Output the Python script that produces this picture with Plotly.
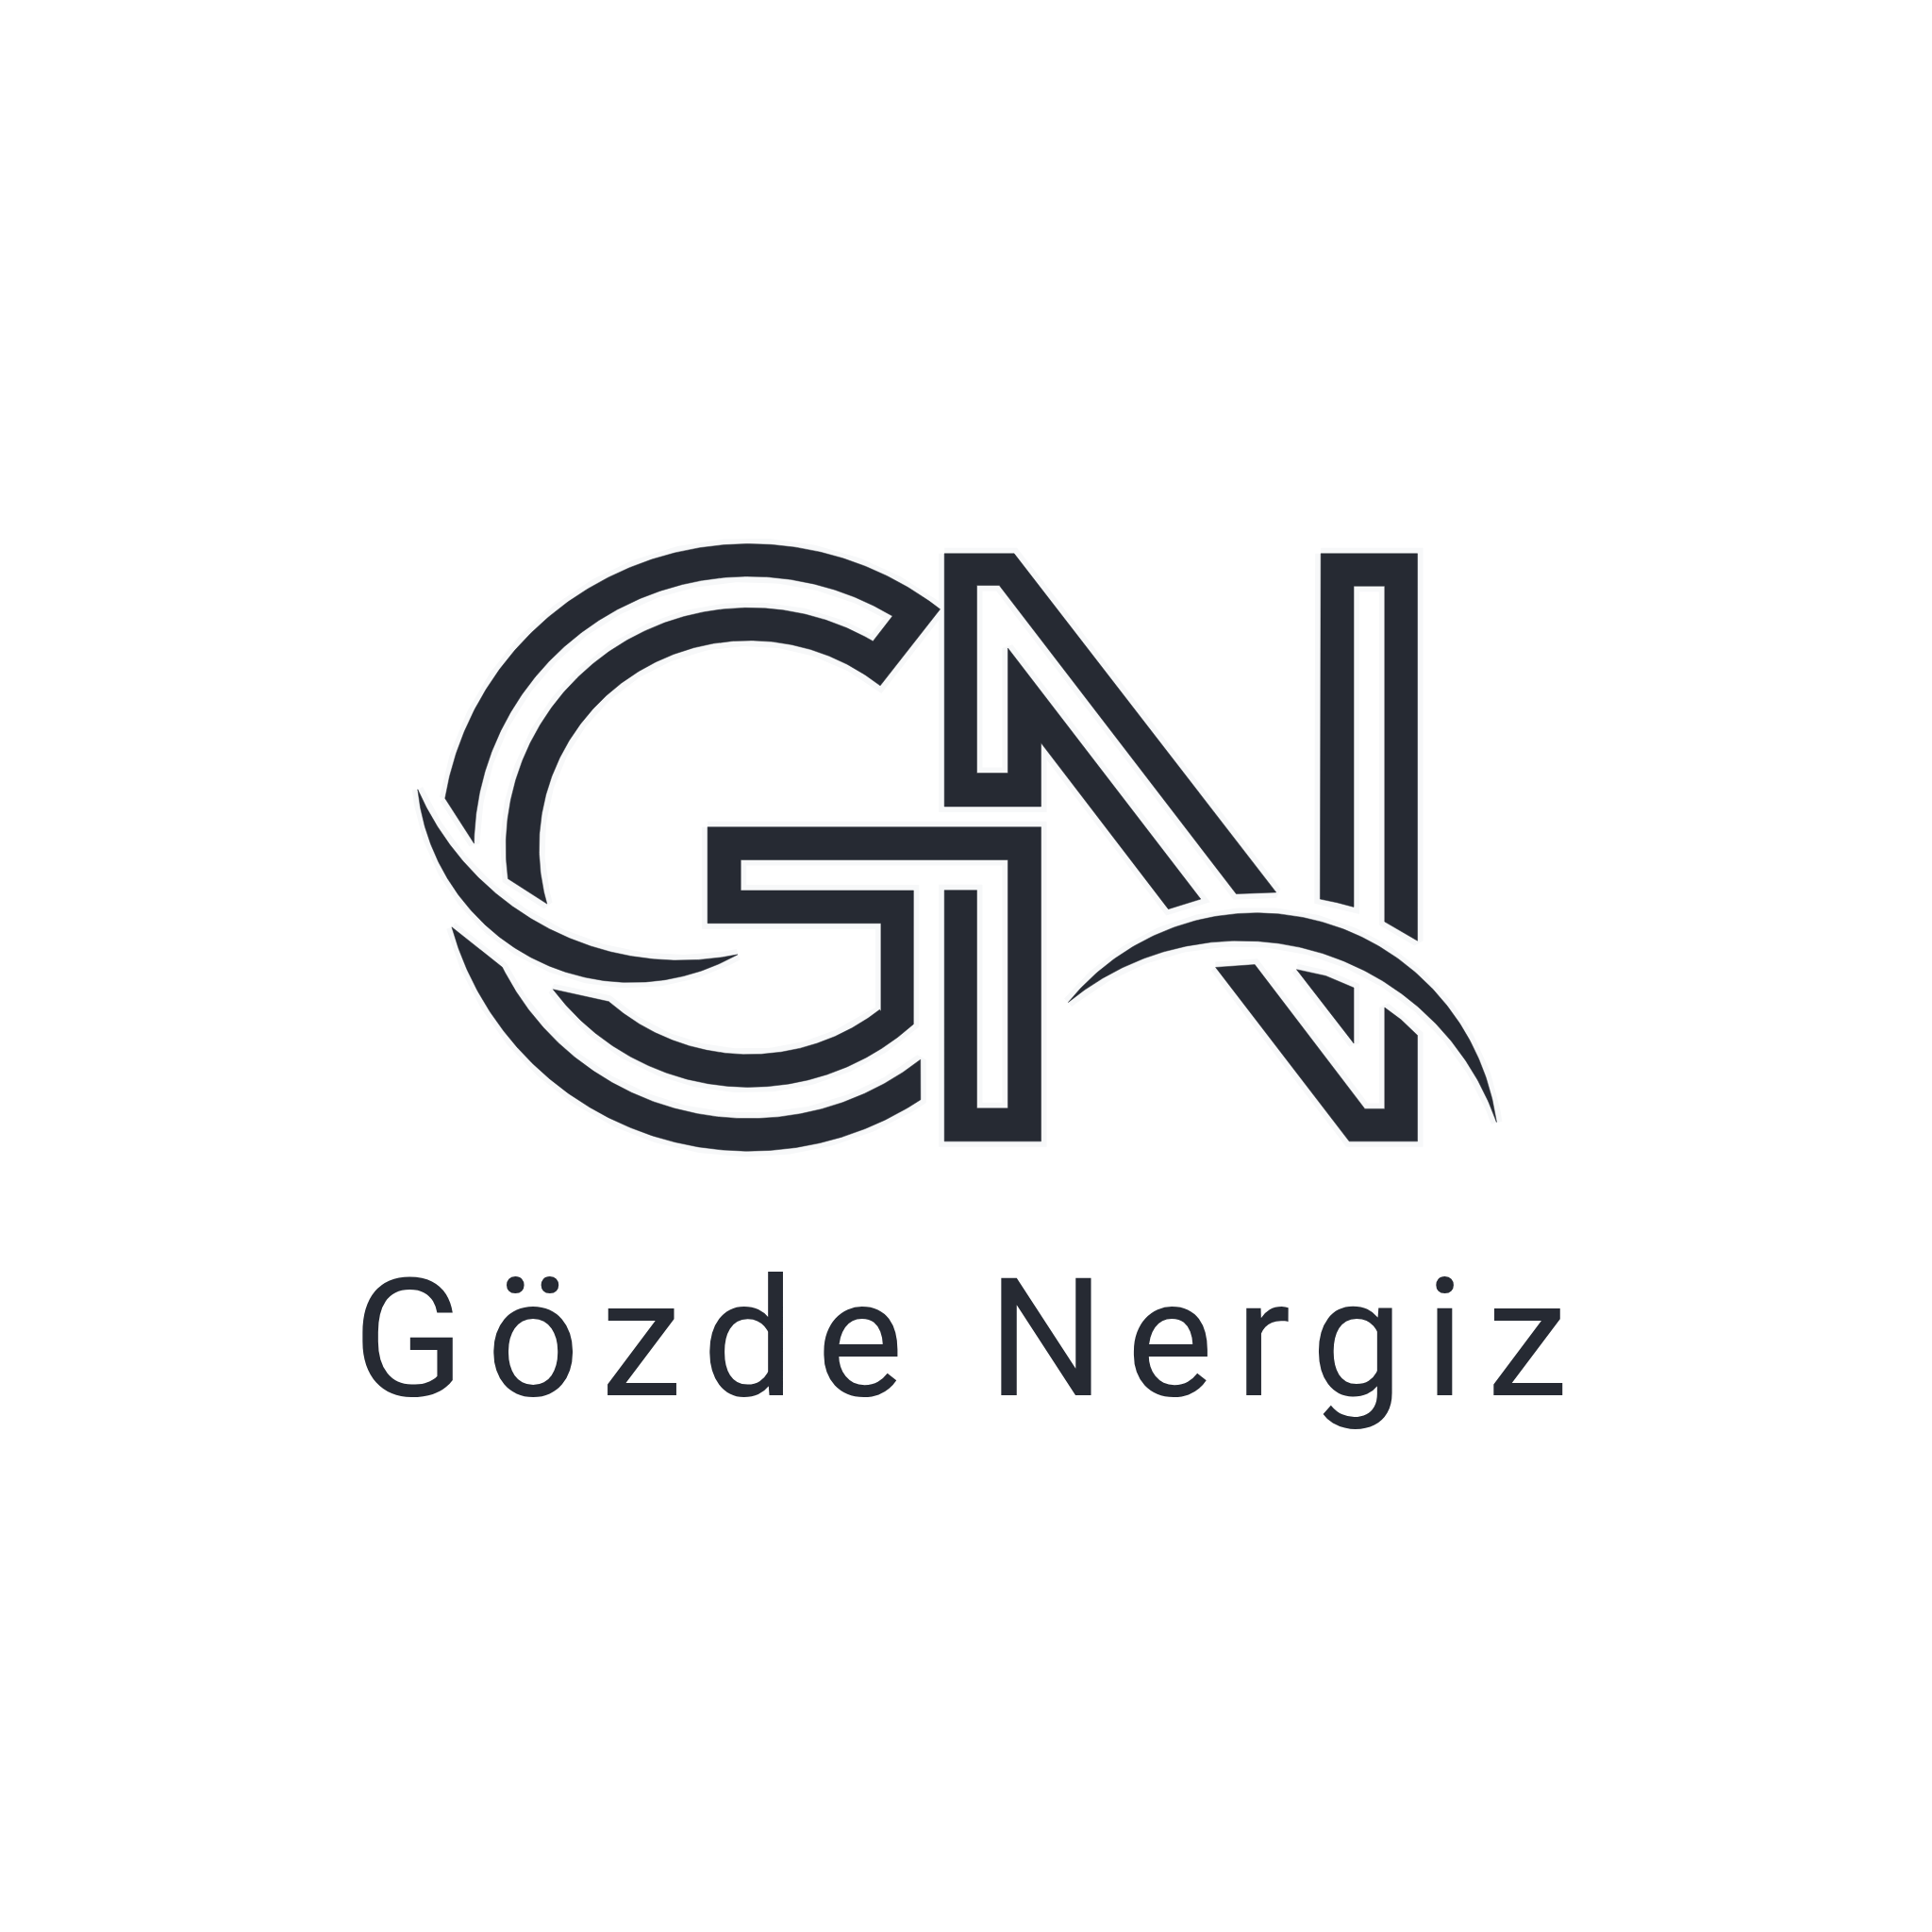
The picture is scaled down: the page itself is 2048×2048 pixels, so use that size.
import numpy as np
import plotly.graph_objects as go

# Logo geometry (coordinates on a 1568 x 1568 grid, y down)
INK = "#262a33"
HALO = "#f7f8f9"

# G rings: centre, horizontal stretch and the four ring radii (outer -> inner)
G_CX, G_CY = 608.0, 687.8
G_STRETCH = 1.015
RING_R = [246.4, 220.0, 194.5, 168.0]

# ring arcs per G piece: (ring index, start angle, end angle), screen degrees
G_TOP_ARCS = [(0, 189.3, 308.3), (3, 308.6, 164.2), (2, 172.5, 300.6), (1, 301.4, 180.85)]
G_LOW_ARCS = [(0, 164.8, 56.2), (1, 51.5, 153.8)]

# T bar joined to the inner lower ring of the G
BAR_X = [574.3, 844.9, 844.9, 766.5, 766.5, 792.8, 792.8, 818.0, 818.0, 601.2, 601.2, 741.4]
BAR_Y = [671.2, 671.2, 926.3, 926.3, 722.5, 722.5, 899.5, 899.5, 697.8, 697.8, 722.7, 722.7]
BAR_ARCS = [(2, 47.5, 143.7), (3, 132.2, 51.6)]
BAR_END_X = [715.0, 715.0, 574.3]
BAR_END_Y = [820.7, 749.3, 749.3]

# N pieces
N_LEFT_X = [766.5, 823.1, 1035.7, 1003.3, 811.0, 792.8, 792.8, 818.0, 818.0, 974.5, 948.2, 844.9, 844.9, 766.5]
N_LEFT_Y = [449.3, 449.3, 724.2, 725.5, 475.1, 475.1, 627.5, 627.5, 526.0, 729.7, 737.8, 603.0, 654.6, 654.6]
N_RIGHT_X = [1072.0, 1150.4, 1150.4, 1123.8, 1123.8, 1098.7, 1098.7, 1085.0, 1071.4]
N_RIGHT_Y = [449.3, 449.3, 763.5, 748.1, 475.7, 475.7, 736.1, 732.5, 729.7]
N_LOW_X = [986.6, 1018.4, 1107.7, 1123.8, 1123.8, 1137.0, 1150.4, 1150.4, 1095.0]
N_LOW_Y = [785.1, 782.9, 899.9, 899.9, 817.7, 827.5, 840.2, 926.3, 926.3]
N_TRI_X = [1052.3, 1076.0, 1098.7, 1098.7]
N_TRI_Y = [786.8, 792.0, 801.6, 846.7]

# crescent swooshes: tip A, point on upper edge, tip B, point on lower edge
SW_LEFT_X = [339.0, 444.2, 598.6, 474.0]
SW_LEFT_Y = [640.7, 753.0, 774.7, 793.0]
SW_RIGHT_X = [867.0, 1015.4, 1214.6, 1060.0]
SW_RIGHT_Y = [813.5, 741.0, 910.8, 770.0]

NAME = "Gözde Nergiz"

# the page body keeps an 8px margin; shift the view so the logo lands where it should
PAGE_SHIFT = 8 / 2048 * 1568


def ring_arc(idx, a0, a1, n=240):
    t = np.radians(np.linspace(a0, a1, n))
    r = RING_R[idx]
    return list(G_CX + r * G_STRETCH * np.cos(t)), list(G_CY + r * np.sin(t))


def arcs_to_xy(arcs):
    xs, ys = [], []
    for idx, a0, a1 in arcs:
        ax, ay = ring_arc(idx, a0, a1)
        xs += ax
        ys += ay
    return xs, ys


def arc3(p0, p1, p2, n=200):
    # circular arc from p0 through p1 to p2
    (x1, y1), (x2, y2), (x3, y3) = p0, p1, p2
    d = 2 * (x1 * (y2 - y3) + x2 * (y3 - y1) + x3 * (y1 - y2))
    ux = ((x1**2 + y1**2) * (y2 - y3) + (x2**2 + y2**2) * (y3 - y1) + (x3**2 + y3**2) * (y1 - y2)) / d
    uy = ((x1**2 + y1**2) * (x3 - x2) + (x2**2 + y2**2) * (x1 - x3) + (x3**2 + y3**2) * (x2 - x1)) / d
    r = np.hypot(x1 - ux, y1 - uy)
    a0 = np.arctan2(y1 - uy, x1 - ux)
    a1 = np.arctan2(y2 - uy, x2 - ux)
    a2 = np.arctan2(y3 - uy, x3 - ux)
    # pick the direction that passes through the middle point
    if (a1 - a0) % (2 * np.pi) < (a2 - a0) % (2 * np.pi):
        end = a0 + (a2 - a0) % (2 * np.pi)
    else:
        end = a0 - (a0 - a2) % (2 * np.pi)
    t = np.linspace(a0, end, n)
    return list(ux + r * np.cos(t)), list(uy + r * np.sin(t))


def crescent(xs, ys):
    a, up, b, low = list(zip(xs, ys))
    ux, uy = arc3(a, up, b)
    lx, ly = arc3(b, low, a)
    return ux + lx, uy + ly


g_top = arcs_to_xy(G_TOP_ARCS)
g_low = arcs_to_xy(G_LOW_ARCS)
bar_a = ring_arc(*BAR_ARCS[0])
bar_b = ring_arc(*BAR_ARCS[1])
bar = (BAR_X + bar_a[0] + bar_b[0] + BAR_END_X, BAR_Y + bar_a[1] + bar_b[1] + BAR_END_Y)

pieces = [
    g_top,
    g_low,
    bar,
    (N_LEFT_X, N_LEFT_Y),
    (N_RIGHT_X, N_RIGHT_Y),
    (N_LOW_X, N_LOW_Y),
    (N_TRI_X, N_TRI_Y),
    crescent(SW_LEFT_X, SW_LEFT_Y),
    crescent(SW_RIGHT_X, SW_RIGHT_Y),
]

fig = go.Figure()

# faint halo under every piece
for xs, ys in pieces:
    fig.add_trace(go.Scatter(
        x=list(xs) + [xs[0]], y=list(ys) + [ys[0]],
        mode="lines", fill="toself", fillcolor=HALO,
        line=dict(color=HALO, width=12),
        hoverinfo="skip", showlegend=False,
    ))

for xs, ys in pieces:
    fig.add_trace(go.Scatter(
        x=list(xs) + [xs[0]], y=list(ys) + [ys[0]],
        mode="lines", fill="toself", fillcolor=INK,
        line=dict(color=INK, width=0.5),
        hoverinfo="skip", showlegend=False,
    ))

fig.add_annotation(
    x=788, y=1087, xref="x", yref="y",
    text=f'<span style="letter-spacing:23px">{NAME}</span>',
    showarrow=False, xanchor="center", yanchor="middle",
    font=dict(family="Roboto", size=174, color=INK),
)

fig.update_xaxes(range=[PAGE_SHIFT, 1568 + PAGE_SHIFT], visible=False, fixedrange=True)
fig.update_yaxes(range=[1568 + PAGE_SHIFT, PAGE_SHIFT], visible=False, fixedrange=True)
fig.update_layout(
    width=2048, height=2048,
    margin=dict(l=0, r=0, t=0, b=0),
    paper_bgcolor="white", plot_bgcolor="white",
)

fig.write_html("out.html")
